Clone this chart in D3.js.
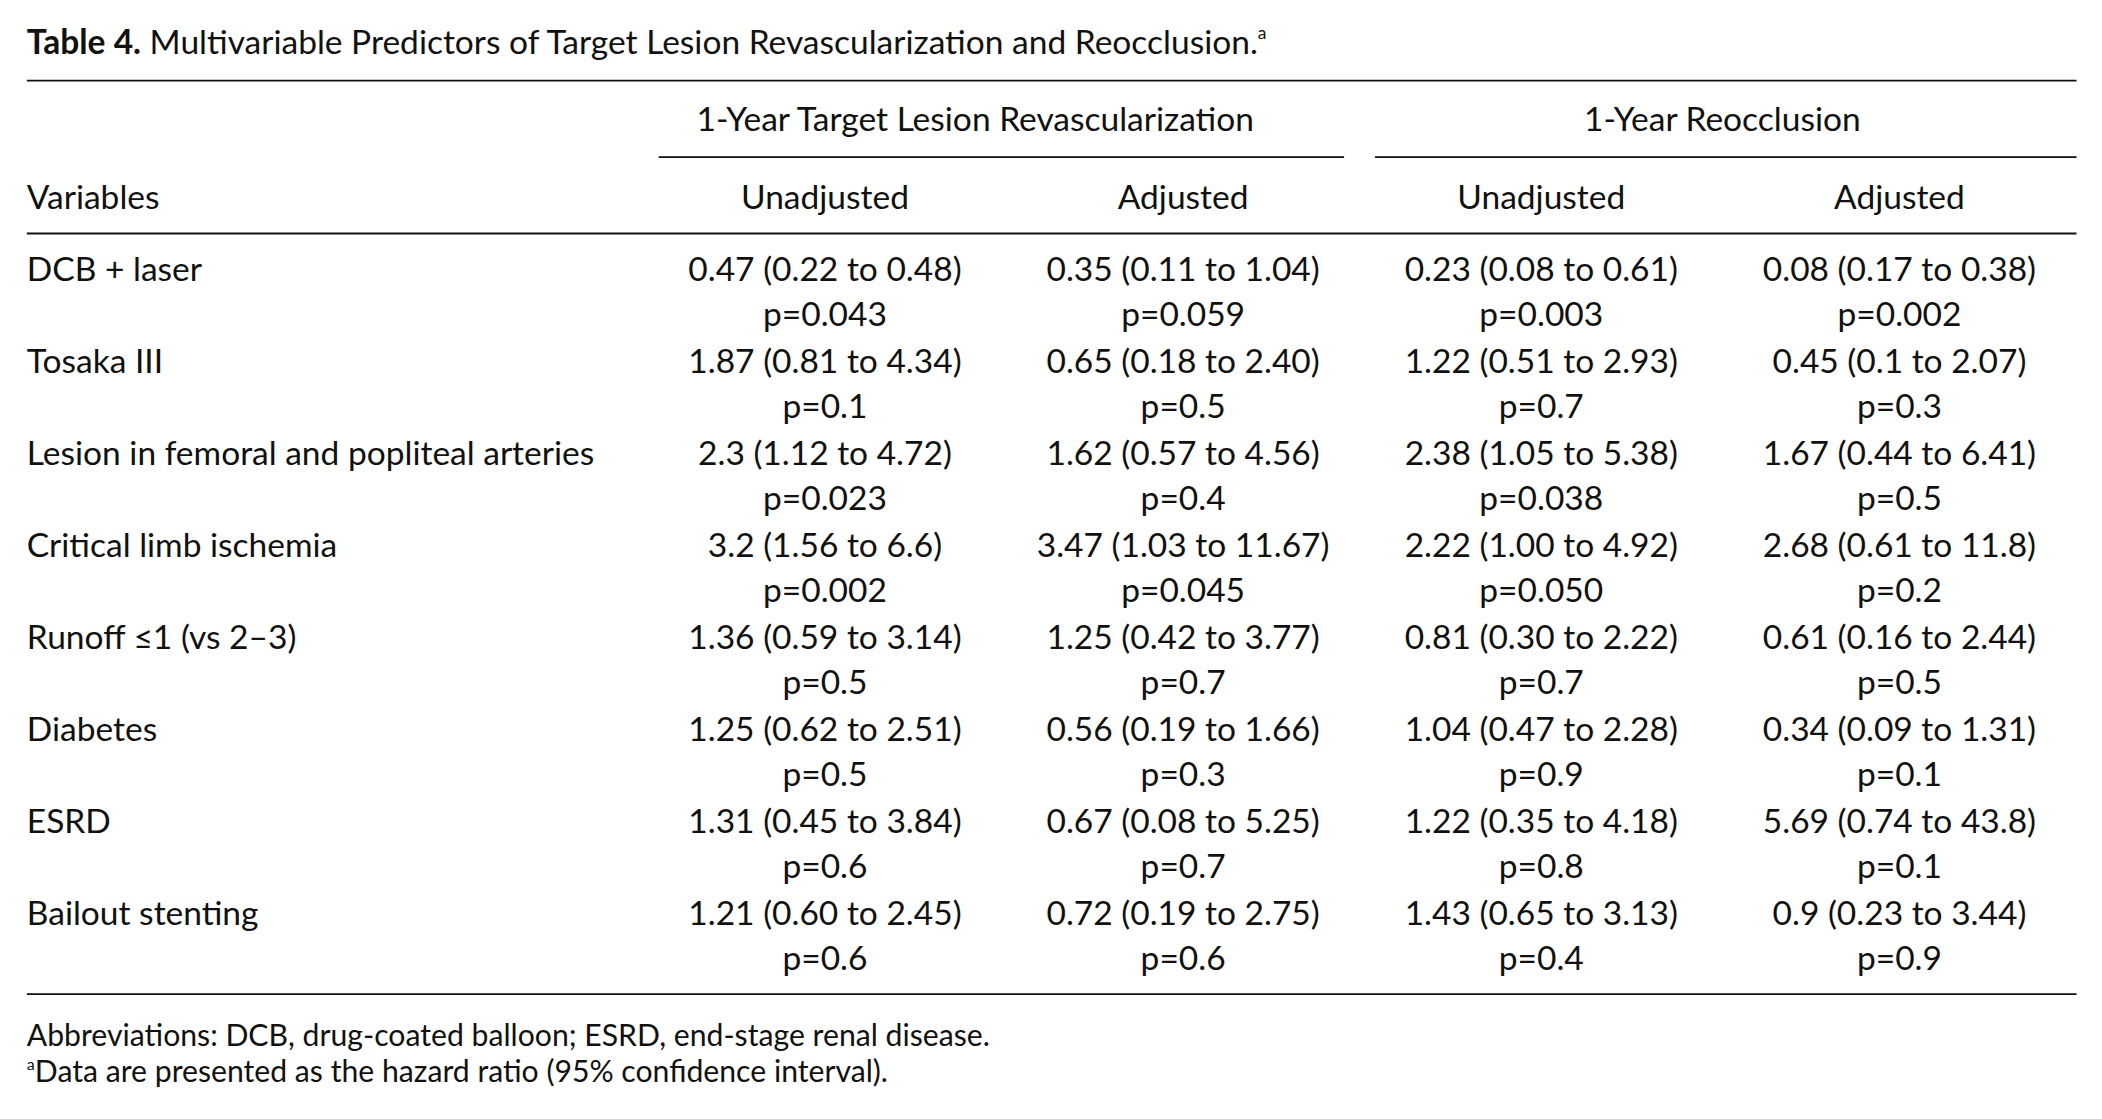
<!DOCTYPE html>
<html><head><meta charset="utf-8">
<script src="https://cdn.jsdelivr.net/npm/d3@7"></script>
<style>body{margin:0;background:#fff}text{font-family:Lato,"Open Sans",sans-serif;fill:#111}</style>
</head><body>
<script>
// table contents
const variables = ["DCB + laser","Tosaka III","Lesion in femoral and popliteal arteries","Critical limb ischemia","Runoff \u22641 (vs 2\u20133)","Diabetes","ESRD","Bailout stenting"];
const groups = ["1-Year Target Lesion Revascularization","1-Year Reocclusion"];
const subHeads = ["Unadjusted","Adjusted","Unadjusted","Adjusted"];
const estimates = [
  ["0.47 (0.22 to 0.48)","0.35 (0.11 to 1.04)","0.23 (0.08 to 0.61)","0.08 (0.17 to 0.38)"],
  ["1.87 (0.81 to 4.34)","0.65 (0.18 to 2.40)","1.22 (0.51 to 2.93)","0.45 (0.1 to 2.07)"],
  ["2.3 (1.12 to 4.72)","1.62 (0.57 to 4.56)","2.38 (1.05 to 5.38)","1.67 (0.44 to 6.41)"],
  ["3.2 (1.56 to 6.6)","3.47 (1.03 to 11.67)","2.22 (1.00 to 4.92)","2.68 (0.61 to 11.8)"],
  ["1.36 (0.59 to 3.14)","1.25 (0.42 to 3.77)","0.81 (0.30 to 2.22)","0.61 (0.16 to 2.44)"],
  ["1.25 (0.62 to 2.51)","0.56 (0.19 to 1.66)","1.04 (0.47 to 2.28)","0.34 (0.09 to 1.31)"],
  ["1.31 (0.45 to 3.84)","0.67 (0.08 to 5.25)","1.22 (0.35 to 4.18)","5.69 (0.74 to 43.8)"],
  ["1.21 (0.60 to 2.45)","0.72 (0.19 to 2.75)","1.43 (0.65 to 3.13)","0.9 (0.23 to 3.44)"]
];
const pValues = [
  ["p=0.043","p=0.059","p=0.003","p=0.002"],
  ["p=0.1","p=0.5","p=0.7","p=0.3"],
  ["p=0.023","p=0.4","p=0.038","p=0.5"],
  ["p=0.002","p=0.045","p=0.050","p=0.2"],
  ["p=0.5","p=0.7","p=0.7","p=0.5"],
  ["p=0.5","p=0.3","p=0.9","p=0.1"],
  ["p=0.6","p=0.7","p=0.8","p=0.1"],
  ["p=0.6","p=0.6","p=0.4","p=0.9"]
];
const footnotes = ["Abbreviations: DCB, drug-coated balloon; ESRD, end-stage renal disease.","Data are presented as the hazard ratio (95% confidence interval)."];

const W = 1567, H = 834, fs = 25;
const svg = d3.select("body").append("svg")
  .attr("width", 2102).attr("height", 1119)
  .attr("viewBox", `0 0 ${W} ${H}`);

const colX = d3.scalePoint().domain(d3.range(4)).range([615, 1416]);
const rowY = d3.scaleLinear().domain([0, 7]).range([201, 681]);

// title
const t = svg.append("text").attr("x", 20).attr("y", 40).attr("font-size", fs);
t.append("tspan").attr("font-weight", "bold").text("Table 4.");
t.append("tspan").text("  Multivariable Predictors of Target Lesion Revascularization and Reocclusion.");
t.append("tspan").attr("font-size", 13).attr("dy", -11).text("a");

const rule = (x1, x2, y) => svg.append("line").attr("x1", x1).attr("x2", x2)
  .attr("y1", y).attr("y2", y).attr("stroke", "#111").attr("stroke-width", 1.4);
rule(20, 1548, 60); rule(491, 1002, 117); rule(1025, 1548, 117);
rule(20, 1548, 174); rule(20, 1548, 741);

svg.selectAll(".grp").data(groups).join("text")
  .attr("x", (d, i) => i ? 1284 : 727).attr("y", 89).attr("dy", "0.35em")
  .attr("text-anchor", "middle").attr("font-size", fs).text(d => d);

svg.append("text").attr("x", 20).attr("y", 147).attr("dy", "0.35em")
  .attr("font-size", fs).text("Variables");
svg.selectAll(".sub").data(subHeads).join("text")
  .attr("x", (d, i) => colX(i)).attr("y", 147).attr("dy", "0.35em")
  .attr("text-anchor", "middle").attr("font-size", fs).text(d => d);

svg.selectAll(".var").data(variables).join("text")
  .attr("x", 20).attr("y", (d, i) => rowY(i)).attr("dy", "0.35em")
  .attr("font-size", fs).text(d => d);

estimates.forEach((row, r) => {
  row.forEach((v, c) => {
    svg.append("text").attr("x", colX(c)).attr("y", rowY(r)).attr("dy", "0.35em")
      .attr("text-anchor", "middle").attr("font-size", fs).text(v);
    svg.append("text").attr("x", colX(c)).attr("y", rowY(r) + 33).attr("dy", "0.35em")
      .attr("text-anchor", "middle").attr("font-size", fs).text(pValues[r][c]);
  });
});

svg.append("text").attr("x", 20).attr("y", 772).attr("dy", "0.35em")
  .attr("font-size", 22.5).text(footnotes[0]);
const f2 = svg.append("text").attr("x", 20).attr("y", 802).attr("dy", "0.35em").attr("font-size", 22.5);
f2.append("tspan").attr("font-size", 12).attr("dy", "-0.4em").text("a");
f2.append("tspan").attr("dy", "0.4em").text(footnotes[1]);
</script>
</body></html>
